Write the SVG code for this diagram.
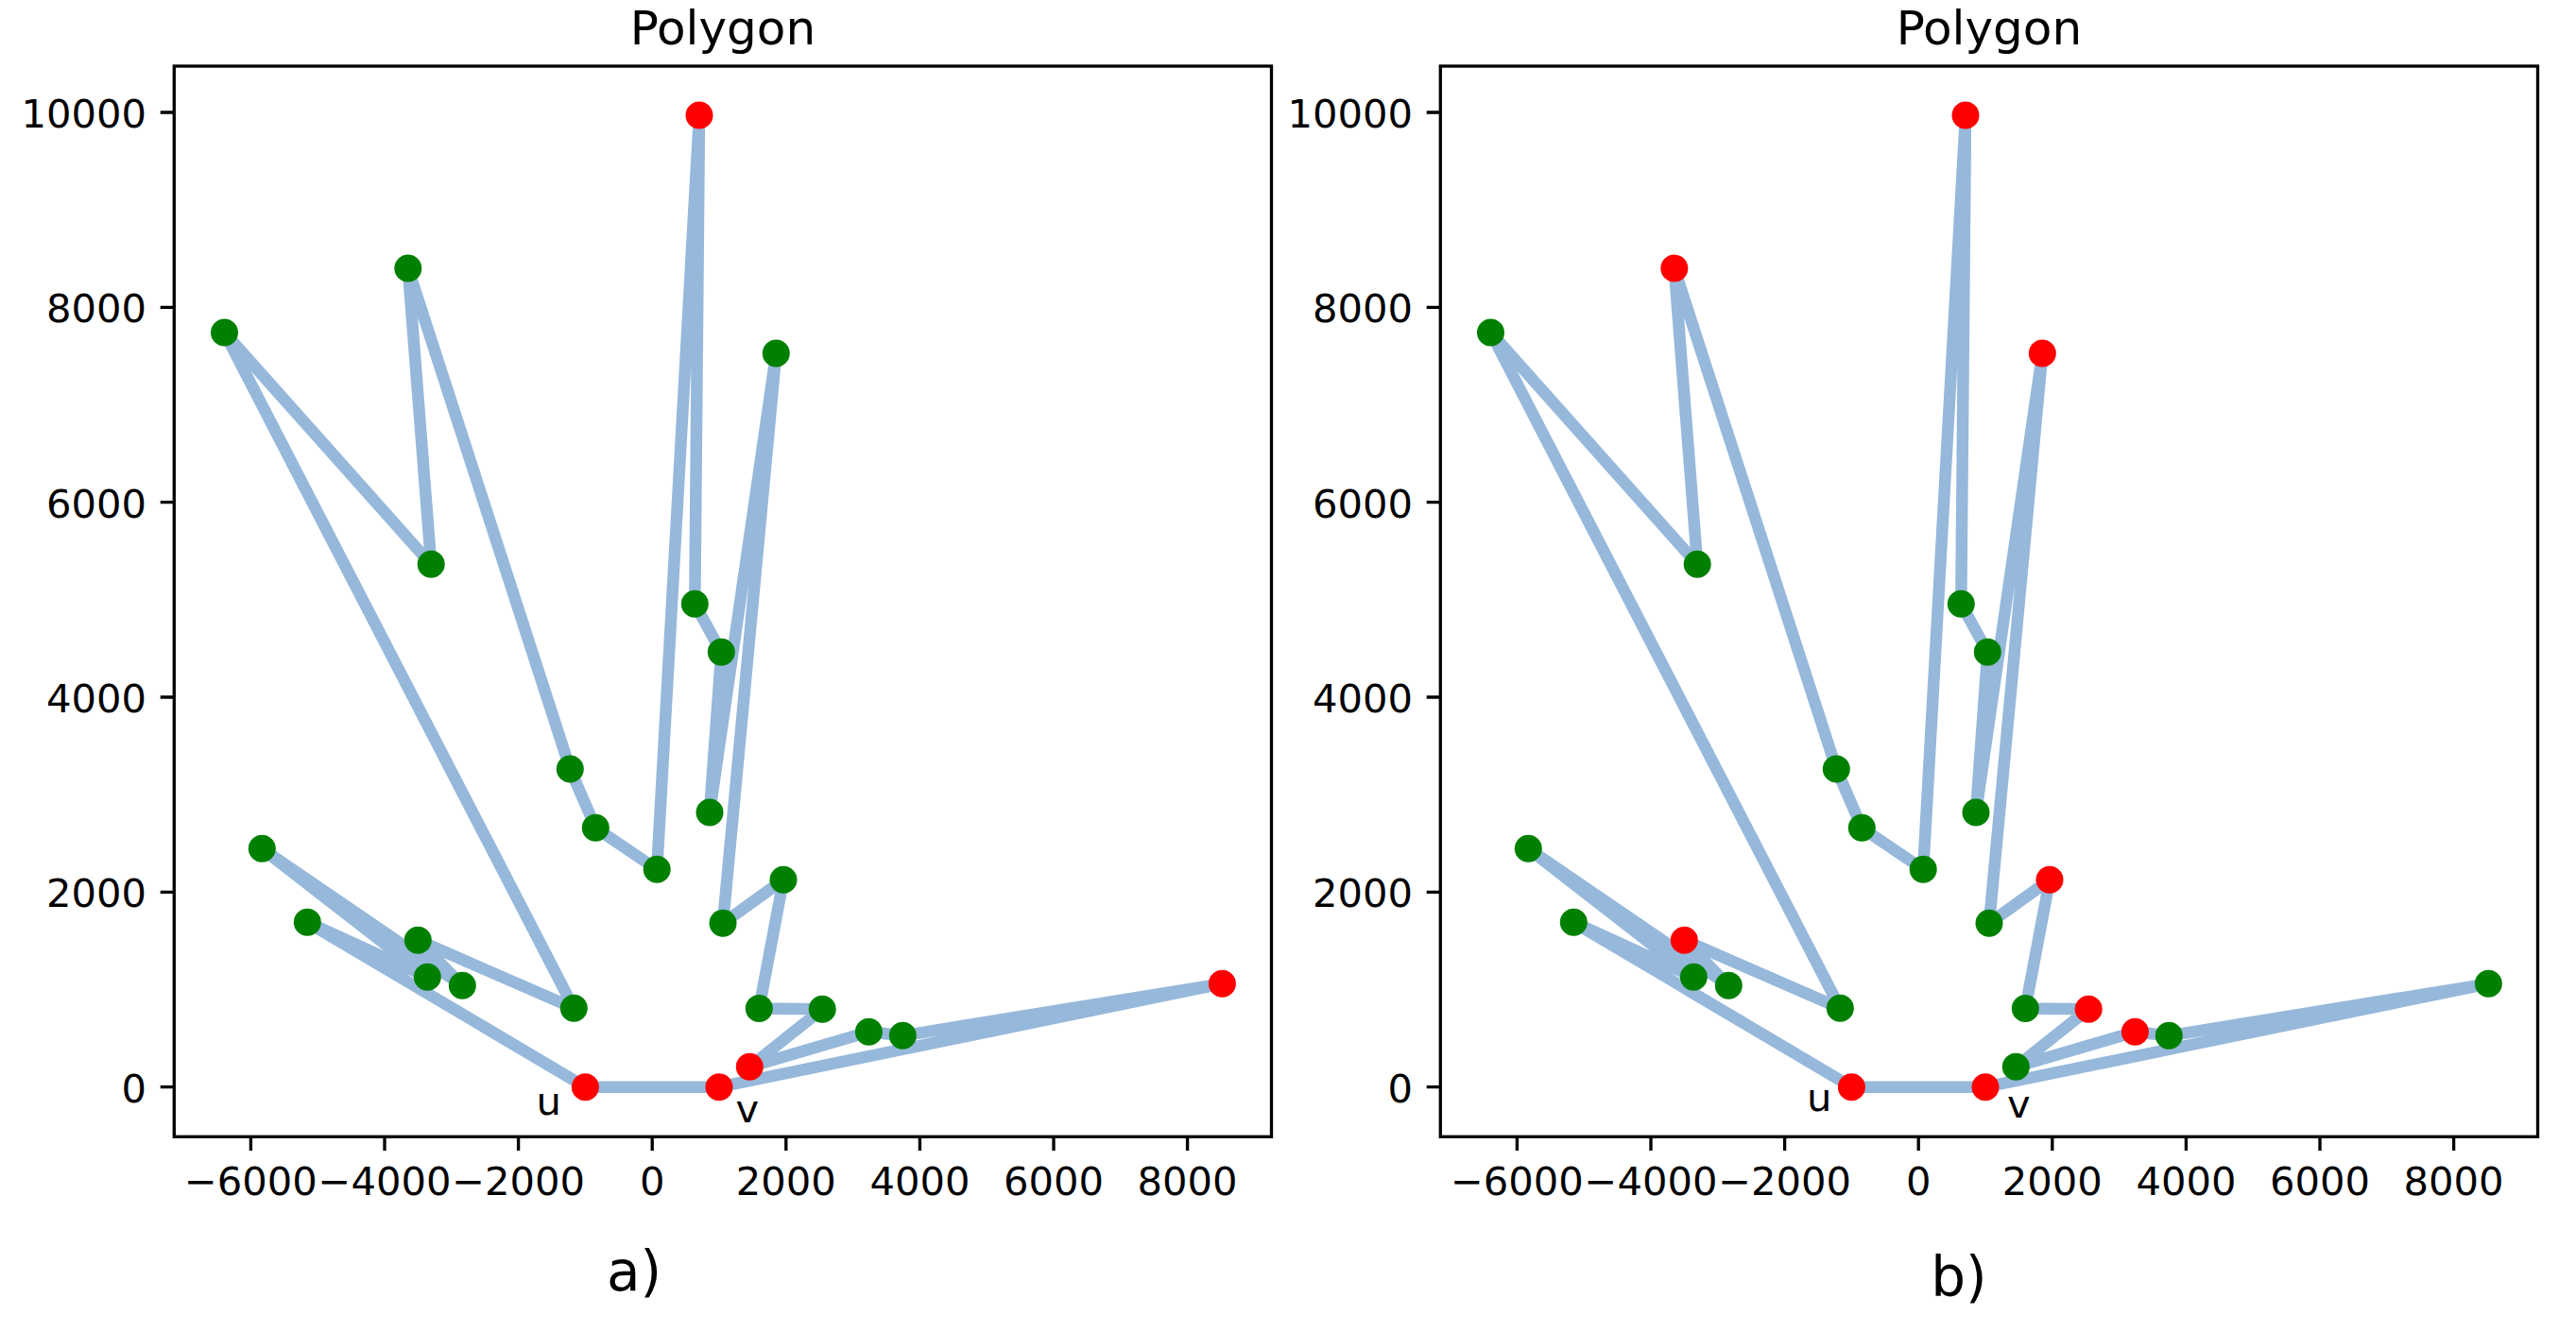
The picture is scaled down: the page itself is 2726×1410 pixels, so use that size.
<svg xmlns="http://www.w3.org/2000/svg" xmlns:xlink="http://www.w3.org/1999/xlink" width="2726" height="1410" viewBox="0 0 2726 1410">
<style>
text{font-family:"DejaVu Sans","Liberation Sans",sans-serif;fill:#000}
.tl{font-size:41.67px}
.ty{text-anchor:end}
.tx{text-anchor:middle}
.title{font-size:50px;text-anchor:middle}
.sub{font-size:58px;text-anchor:middle}
.edge{fill:none;stroke:#96b8db;stroke-width:12.5;stroke-linejoin:round;stroke-linecap:round}
.spine{fill:none;stroke:#000;stroke-width:3.33}
.tick{stroke:#000;stroke-width:3.33}
.g{fill:#008000}
.r{fill:#ff0000}
</style>
<defs>
<polyline id="poly" points="619.4,1150.7 761,1150.7 1293.4,1041.3 955.3,1096.3 919.4,1092.3 793.3,1129.3 870.2,1068.2 803.3,1067.5 829,931.3 765,977.3 821.3,374 751,860 763.3,690.2 735.3,639.3 740,122 695.2,920.3 630.3,876.3 603.3,814 431.8,284 456.2,597.3 237.5,352 607.3,1067.3 442.3,995.3 489.3,1043.3 277.3,898.3 452.3,1034.3 325.3,976.3 619.4,1150.7"/>
<g id="axisfurniture">
<rect class="spine" x="184.3" y="70" width="1161.2" height="1133.3"/>
<path class="tick" d="M265.4,1203.3v14.6M407,1203.3v14.6M548.6,1203.3v14.6M690.2,1203.3v14.6M831.8,1203.3v14.6M973.4,1203.3v14.6M1115,1203.3v14.6M1256.6,1203.3v14.6M184.3,1150.7h-14.6M184.3,944.4h-14.6M184.3,738h-14.6M184.3,531.7h-14.6M184.3,325.3h-14.6M184.3,119h-14.6"/>
<g class="tl">
<text class="tx" x="265.4" y="1265">−6000</text>
<text class="tx" x="407" y="1265">−4000</text>
<text class="tx" x="548.6" y="1265">−2000</text>
<text class="tx" x="690.2" y="1265">0</text>
<text class="tx" x="831.8" y="1265">2000</text>
<text class="tx" x="973.4" y="1265">4000</text>
<text class="tx" x="1115" y="1265">6000</text>
<text class="tx" x="1256.6" y="1265">8000</text>
<text class="ty" x="155" y="1166.5">0</text>
<text class="ty" x="155" y="960.2">2000</text>
<text class="ty" x="155" y="753.8">4000</text>
<text class="ty" x="155" y="547.5">6000</text>
<text class="ty" x="155" y="341.1">8000</text>
<text class="ty" x="155" y="134.8">10000</text>
</g>
<text class="title" x="764.9" y="46.5">Polygon</text>
</g>
</defs>

<!-- Panel a -->
<g id="panel-a">
<use xlink:href="#axisfurniture"/>
<g id="a-connectors"><use xlink:href="#poly" class="edge"/></g>
<g id="a-nodes">
<g id="a-top"><circle class="r" cx="740" cy="122" r="14.5"/></g>
<g id="a-p2"><circle class="g" cx="431.8" cy="284" r="14.5"/></g>
<g id="a-p3"><circle class="g" cx="237.5" cy="352" r="14.5"/></g>
<g id="a-p4"><circle class="g" cx="821.3" cy="374" r="14.5"/></g>
<g id="a-p5"><circle class="g" cx="456.2" cy="597.3" r="14.5"/></g>
<g id="a-p6"><circle class="g" cx="735.3" cy="639.3" r="14.5"/></g>
<g id="a-p7"><circle class="g" cx="763.3" cy="690.2" r="14.5"/></g>
<g id="a-p8"><circle class="g" cx="603.3" cy="814" r="14.5"/></g>
<g id="a-p9"><circle class="g" cx="751" cy="860" r="14.5"/></g>
<g id="a-p10"><circle class="g" cx="630.3" cy="876.3" r="14.5"/></g>
<g id="a-p11"><circle class="g" cx="695.2" cy="920.3" r="14.5"/></g>
<g id="a-p12"><circle class="g" cx="277.3" cy="898.3" r="14.5"/></g>
<g id="a-p13"><circle class="g" cx="829" cy="931.3" r="14.5"/></g>
<g id="a-p14"><circle class="g" cx="765" cy="977.3" r="14.5"/></g>
<g id="a-p15"><circle class="g" cx="325.3" cy="976.3" r="14.5"/></g>
<g id="a-p16"><circle class="g" cx="442.3" cy="995.3" r="14.5"/></g>
<g id="a-p17"><circle class="g" cx="452.3" cy="1034.3" r="14.5"/></g>
<g id="a-p18"><circle class="g" cx="489.3" cy="1043.3" r="14.5"/></g>
<g id="a-p19"><circle class="g" cx="607.3" cy="1067.3" r="14.5"/></g>
<g id="a-p20"><circle class="g" cx="803.3" cy="1067.5" r="14.5"/></g>
<g id="a-p21"><circle class="g" cx="870.2" cy="1068.2" r="14.5"/></g>
<g id="a-p22"><circle class="g" cx="919.4" cy="1092.3" r="14.5"/></g>
<g id="a-p23"><circle class="g" cx="955.3" cy="1096.3" r="14.5"/></g>
<g id="a-p24"><circle class="r" cx="793.3" cy="1129.3" r="14.5"/></g>
<g id="a-u"><circle class="r" cx="619.4" cy="1150.7" r="14.5"/><text class="tl" x="567.5" y="1180">u</text></g>
<g id="a-v"><circle class="r" cx="761" cy="1150.7" r="14.5"/><text class="tl" x="778.5" y="1187.5">v</text></g>
<g id="a-p27"><circle class="r" cx="1293.4" cy="1041.3" r="14.5"/></g>
</g>
<text class="sub" x="671" y="1366">a)</text>
</g>

<!-- Panel b -->
<g id="panel-b">
<g transform="translate(1340,0)">
<use xlink:href="#axisfurniture"/>
<g id="b-connectors"><use xlink:href="#poly" class="edge"/></g>
<g id="b-nodes">
<g id="b-top"><circle class="r" cx="740" cy="122" r="14.5"/></g>
<g id="b-p2"><circle class="r" cx="431.8" cy="284" r="14.5"/></g>
<g id="b-p3"><circle class="g" cx="237.5" cy="352" r="14.5"/></g>
<g id="b-p4"><circle class="r" cx="821.3" cy="374" r="14.5"/></g>
<g id="b-p5"><circle class="g" cx="456.2" cy="597.3" r="14.5"/></g>
<g id="b-p6"><circle class="g" cx="735.3" cy="639.3" r="14.5"/></g>
<g id="b-p7"><circle class="g" cx="763.3" cy="690.2" r="14.5"/></g>
<g id="b-p8"><circle class="g" cx="603.3" cy="814" r="14.5"/></g>
<g id="b-p9"><circle class="g" cx="751" cy="860" r="14.5"/></g>
<g id="b-p10"><circle class="g" cx="630.3" cy="876.3" r="14.5"/></g>
<g id="b-p11"><circle class="g" cx="695.2" cy="920.3" r="14.5"/></g>
<g id="b-p12"><circle class="g" cx="277.3" cy="898.3" r="14.5"/></g>
<g id="b-p13"><circle class="r" cx="829" cy="931.3" r="14.5"/></g>
<g id="b-p14"><circle class="g" cx="765" cy="977.3" r="14.5"/></g>
<g id="b-p15"><circle class="g" cx="325.3" cy="976.3" r="14.5"/></g>
<g id="b-p16"><circle class="r" cx="442.3" cy="995.3" r="14.5"/></g>
<g id="b-p17"><circle class="g" cx="452.3" cy="1034.3" r="14.5"/></g>
<g id="b-p18"><circle class="g" cx="489.3" cy="1043.3" r="14.5"/></g>
<g id="b-p19"><circle class="g" cx="607.3" cy="1067.3" r="14.5"/></g>
<g id="b-p20"><circle class="g" cx="803.3" cy="1067.5" r="14.5"/></g>
<g id="b-p21"><circle class="r" cx="870.2" cy="1068.2" r="14.5"/></g>
<g id="b-p22"><circle class="r" cx="919.4" cy="1092.3" r="14.5"/></g>
<g id="b-p23"><circle class="g" cx="955.3" cy="1096.3" r="14.5"/></g>
<g id="b-p24"><circle class="g" cx="793.3" cy="1129.3" r="14.5"/></g>
<g id="b-u"><circle class="r" cx="619.4" cy="1150.7" r="14.5"/><text class="tl" x="572" y="1176">u</text></g>
<g id="b-v"><circle class="r" cx="761" cy="1150.7" r="14.5"/><text class="tl" x="784" y="1182.5">v</text></g>
<g id="b-p27"><circle class="g" cx="1293.4" cy="1041.3" r="14.5"/></g>
</g>
</g>
<text class="sub" x="2073" y="1372">b)</text>
</g>
</svg>
